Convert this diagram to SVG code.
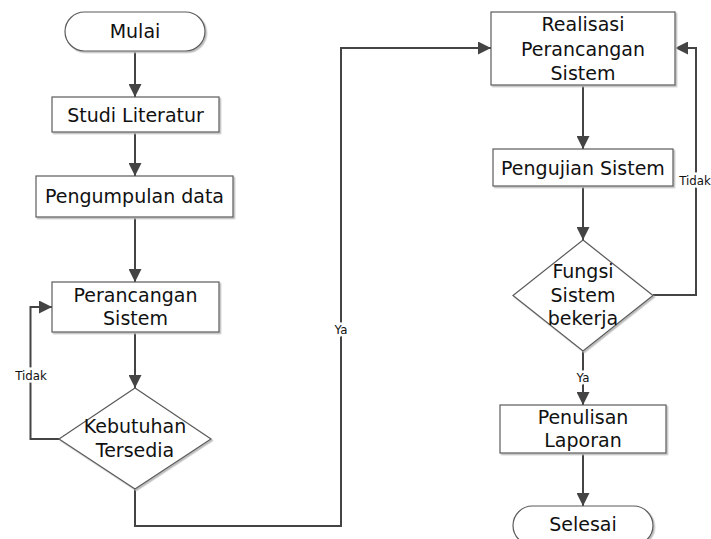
<svg xmlns="http://www.w3.org/2000/svg" width="711" height="539" viewBox="0 0 711 539">
<style>
.shape{fill:#fff;stroke:#5a5a5a;stroke-width:1.2;filter:url(#sh)}
.t{font-family:"DejaVu Sans","Open Sans",sans-serif;font-size:19px;fill:#111;text-anchor:middle}
.lbl{font-family:"DejaVu Sans","Open Sans",sans-serif;font-size:11.8px;fill:#111;text-anchor:middle;paint-order:stroke;stroke:#fff;stroke-width:5px}
.c{fill:none;stroke:#444;stroke-width:2;marker-end:url(#ah)}
</style>
<defs>
<filter id="sh" x="-10%" y="-10%" width="130%" height="130%">
<feDropShadow dx="1.5" dy="1.5" stdDeviation="0.6" flood-color="#bcbcbc"/>
</filter>
<marker id="ah" markerUnits="userSpaceOnUse" markerWidth="13" markerHeight="13" viewBox="0 0 12 12" refX="12" refY="6" orient="auto">
<path d="M0,0 L12,6 L0,12 z" fill="#444"/>
</marker>
</defs>
<rect width="711" height="539" fill="#fff"/>
<g id="connectors">
<path class="c" d="M135,51 V97"/>
<path class="c" d="M135,132 V176"/>
<path class="c" d="M135,217 V282"/>
<path class="c" d="M135,332 V388"/>
<path class="c" d="M59,439 H30.5 V307 H52"/>
<path class="c" d="M135,489 V526 H341 V48 H491"/>
<path class="c" d="M583,85 V149"/>
<path class="c" d="M583,186 V240"/>
<path class="c" d="M653,295 H696 V48 H675"/>
<path class="c" d="M583,351 V405"/>
<path class="c" d="M583,453 V506"/>
<text class="lbl" x="31" y="380">Tidak</text>
<text class="lbl" x="341" y="334">Ya</text>
<text class="lbl" x="695" y="185">Tidak</text>
<text class="lbl" x="583" y="381.5">Ya</text>
</g>
<g id="mulai">
<rect class="shape" x="65" y="12" width="140" height="39" rx="19.5"/>
<text class="t" x="135" y="38">Mulai</text>
</g>
<g id="studi">
<rect class="shape" x="52" y="97" width="167" height="35"/>
<text class="t" x="135.5" y="122">Studi Literatur</text>
</g>
<g id="pengumpulan">
<rect class="shape" x="36" y="176" width="197" height="41"/>
<text class="t" x="134.5" y="203">Pengumpulan data</text>
</g>
<g id="perancangan">
<rect class="shape" x="52" y="282" width="167" height="50"/>
<text class="t" x="135.5" y="301.5">Perancangan<tspan x="135.5" dy="23.5">Sistem</tspan></text>
</g>
<g id="kebutuhan">
<polygon class="shape" points="135,388 211,439 135,489 59,439"/>
<text class="t" x="135" y="433">Kebutuhan<tspan x="135" dy="23.5">Tersedia</tspan></text>
</g>
<g id="realisasi">
<rect class="shape" x="491" y="12" width="184" height="73"/>
<text class="t" x="583" y="31">Realisasi<tspan x="583" dy="24.5">Perancangan</tspan><tspan x="583" dy="24.5">Sistem</tspan></text>
</g>
<g id="pengujian">
<rect class="shape" x="493" y="149" width="180" height="37"/>
<text class="t" x="583" y="175">Pengujian Sistem</text>
</g>
<g id="fungsi">
<polygon class="shape" points="583,240 653,295.5 583,351 513,295.5"/>
<text class="t" x="583" y="278">Fungsi<tspan x="583" dy="23.5">Sistem</tspan><tspan x="583" dy="23.5">bekerja</tspan></text>
</g>
<g id="penulisan">
<rect class="shape" x="500" y="405" width="166" height="48"/>
<text class="t" x="583" y="423.5">Penulisan<tspan x="583" dy="23.5">Laporan</tspan></text>
</g>
<g id="selesai">
<rect class="shape" x="513" y="506" width="140" height="39" rx="19.5"/>
<text class="t" x="583" y="531">Selesai</text>
</g>
</svg>
